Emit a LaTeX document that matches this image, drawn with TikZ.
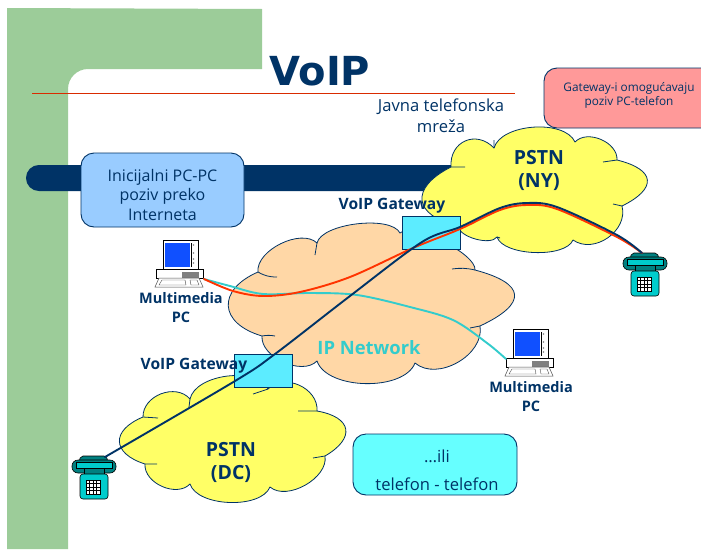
\documentclass[tikz,border=0pt]{standalone}
\usepackage{fontspec}
\setmainfont{Open Sans}
\newfontfamily\titlefont{DejaVu Sans}
\definecolor{navy}{HTML}{003366}
\definecolor{leaf}{HTML}{9CCC99}
\definecolor{sand}{HTML}{FFD7A6}
\definecolor{lemon}{HTML}{FFFF66}
\definecolor{gatec}{HTML}{5CECFF}
\definecolor{aqua}{HTML}{33CCCC}
\definecolor{redl}{HTML}{FF3300}
\definecolor{teal1}{HTML}{00CCCC}
\definecolor{teal2}{HTML}{008080}
\definecolor{pinkc}{HTML}{FF9999}
\definecolor{skyc}{HTML}{99CCFF}
\definecolor{cyanc}{HTML}{66FFFF}
\definecolor{screenc}{HTML}{1050FF}
\tikzset{
  bp/.style={bend left=70,looseness=#1},
  cloudfill/.style={draw=navy,line width=.8pt,line join=round},
  tail/.style={draw=navy,line width=.8pt},
  infobox/.style={draw=navy,line width=.9pt,rounded corners=13pt,inner sep=0pt,align=center,text=navy},
  gatebox/.style={draw=navy,line width=1pt,fill=gatec,minimum width=58pt,minimum height=33pt,inner sep=0pt},
  label/.style={text=navy,align=center,inner sep=0pt,font=\fontsize{14.5}{18.5}\selectfont\bfseries},
  gatelabel/.style={text=navy,inner sep=0pt,font=\fontsize{15.6}{18}\selectfont\bfseries},
  plain/.style={text=navy,align=center,inner sep=0pt,font=\fontsize{16.6}{21}\selectfont},
  cloudtext/.style={text=navy,align=center,inner sep=0pt,font=\fontsize{19.5}{23}\selectfont\bfseries},
  wire/.style={line width=1.9pt,line cap=round,line join=round}
}
\newcommand{\pcicon}[2]{%
  \begin{scope}[shift={(#1,#2)}]
    \draw[black,fill=white,line width=.7pt] (0,0) rectangle (35,29);
    \fill[screenc] (2,3) rectangle (27,27);
    \draw[black,line width=.4pt] (28,3) -- (28,27);
    \foreach \yy in {5,13,19,23} \fill[gray] (30.5,\yy) circle (.9);
    \draw[black,fill=white,line width=.7pt] (-7,29) rectangle (40,38);
    \fill[gray] (19,32) rectangle (36,38);
    \draw[black!70,fill=white,line width=.5pt] (-4,38) -- (36,38) -- (40,47) -- (-8,47) -- cycle;
    \draw[black!70,line width=.4pt] (-1,40) -- (22,40) -- (23,45) -- (-4,45) -- cycle (27,40) -- (34,40) -- (36,45) -- (28,45) -- cycle;
  \end{scope}}
\newcommand{\phoneicon}[2]{%
  \begin{scope}[shift={(#1,#2)}]
    \draw[black,line width=.6pt,fill=teal2,rounded corners=2pt] (9,-4) -- (34,-4) -- (36,1) -- (7,1) -- cycle;
    \draw[black,line width=.6pt,fill=teal2,rounded corners=6pt] (0,0) rectangle (44,13);
    \draw[black,line width=.6pt,fill=teal1] (4,2) rectangle (40,8);
    \draw[black,line width=.6pt,fill=teal2] (12,8) rectangle (32,14);
    \draw[black,line width=.6pt,fill=teal1,rounded corners=3pt] (8,14) rectangle (36,39);
    \fill[black] (14,20) rectangle (29,35);
    \foreach \xx in {0,1,2,3} \foreach \yy in {0,1,2,3} \fill[white] (14.8+\xx*3.5,20.8+\yy*3.5) rectangle ++(2.6,2.6);
  \end{scope}}
\begin{document}
\begin{tikzpicture}[x=1pt,y=-1pt]
\useasboundingbox (0,0) rectangle (701,549);
% frame
\fill[white] (0,0) rectangle (701,549);
\fill[leaf] (7,8) -- (262,9) -- (262,69) -- (88,69) arc[start angle=90,end angle=180,radius=20pt] -- (68,549) -- (7,549) -- cycle;
\draw[redl!85!black,line width=.7pt] (32,93) -- (515,93);
\node[text=navy,inner sep=0pt,font=\fontsize{40}{42}\selectfont\titlefont\bfseries] (title) at (320,71) {VoIP};
\fill[navy,rounded corners=12.9pt] (26,165) rectangle (500,191);
% info boxes
\node[infobox,fill=pinkc,minimum width=190pt,minimum height=60pt] (pink) at (639,98) {};
\node[text=navy,align=center,inner sep=0pt,font=\fontsize{11.8}{14}\selectfont] (pinktext) at (629,95) {Gateway-i omogućavaju\\poziv PC-telefon};
\node[infobox,fill=skyc,minimum width=163pt,minimum height=74pt] (initial) at (162.5,190) {};
\node[text=navy,align=center,inner sep=0pt,font=\fontsize{16}{19.5}\selectfont] (initialtext) at (162.5,194.5) {Inicijalni PC-PC\\poziv preko\\Interneta};
\node[plain] (javna) at (441,115.5) {Javna telefonska\\mreža};
% IP cloud
\draw[cloudfill,fill=sand] (262,336) to[bp=1.8] (258,272) to[bp=.85] (317,243) to[bp=.62] (400,233) to[bp=.5] (475,270) to[bp=2.4] (480,326) to[bp=1] (415,363) to[bp=.8] (317,361) to[bp=.9] (262,336);
\draw[tail] (258,272) to[bend right=15] (277,277) (262,336) to[bend left=10] (275,336) (317,243) -- (315,255) (475,270) to[bend right=10] (452,269) (480,326) -- (470,328);
% NY cloud
\draw[cloudfill,fill=lemon] (451,167) to[bp=1.4] (494,148) to[bp=.8] (575,142) to[bp=1] (617,160) to[bp=2.2] (622,206) to[bp=1.1] (573,240) to[bp=.67] (497,237) to[bp=.7] (458,226) to[bp=2] (451,167);
\draw[tail] (451,167) -- (465,167) (494,148) -- (494,140) (617,160) -- (603,162) (622,206) -- (613,204) (497,237) -- (500,238);
% DC cloud
\draw[cloudfill,fill=lemon] (143,417) to[bp=1.1] (190,399) to[bp=.83] (268,389) to[bp=1.1] (317,411) to[bp=2] (325,456) to[bp=.9] (270,487) to[bp=.77] (190,484) to[bp=1] (145,464) to[bp=1.9] (143,417);
\draw[tail] (143,417) -- (158,418) (190,399) -- (189,407) (268,389) -- (253,394) (317,411) -- (298,411) (325,456) -- (313,458) (145,464) -- (157,464);
% gateways
\node[gatebox] (gwny) at (431,232.5) {};
\node[gatebox] (gwdc) at (263,370.5) {};
% icons
\pcicon{163}{240}
\pcicon{513}{329}
\phoneicon{623}{257}
\phoneicon{72}{460}
\coordinate (pca) at (204,279);
\coordinate (pcb) at (506,359);
\coordinate (phny) at (642,253);
\coordinate (phdc) at (105,457);
% wires
\draw[wire,aqua] plot[smooth,tension=.55] coordinates {(pca) (230,286) (263,294) (310,293) (357,295) (410,307) (453,320) (487,343) (pcb)};
\draw[wire,redl] plot[smooth,tension=.55] coordinates {(pca) (233,291) (263,296) (300,292) (350,277) (413,248) (460,229) (500,210) (527,205) (557,209) (617,237) (phny)};
\draw[wire,navy] plot[smooth,tension=.55] coordinates {(phdc) (235,381) (275,354) (350,296) (422,242) (460,227) (500,208) (527,203) (557,207) (617,235) (phny)};
% labels
\node[gatelabel] (lgwny) at (392,206) {VoIP Gateway};
\node[gatelabel] (lgwdc) at (194,366) {VoIP Gateway};
\node[label] (lpca) at (181,307.5) {Multimedia\\PC};
\node[label] (lpcb) at (531,396.5) {Multimedia\\PC};
\node[cloudtext] (ny) at (539,170.5) {PSTN\\(NY)};
\node[cloudtext] (dc) at (231,462) {PSTN\\(DC)};
\node[text=aqua,inner sep=0pt,font=\fontsize{18.4}{20}\selectfont\bfseries] (ipn) at (369,348) {IP Network};
% bottom box
\node[infobox,fill=cyanc,minimum width=164pt,minimum height=61pt] (alt) at (435,464.5) {};
\node[text=navy,align=center,inner sep=0pt,font=\fontsize{16.6}{28}\selectfont] (alttext) at (437,470.5) {…ili\\telefon - telefon};
\end{tikzpicture}
\end{document}
